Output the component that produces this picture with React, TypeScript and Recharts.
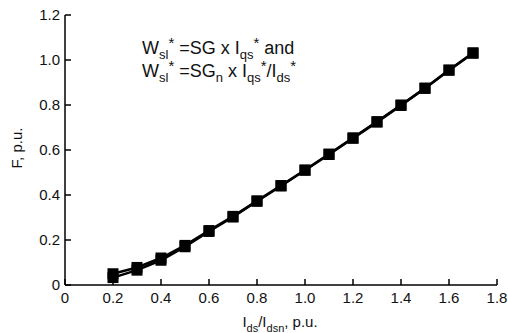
import React from "react";
import { LineChart, Line, XAxis, YAxis } from "recharts";

// current ratio Ids/Idsn, p.u.
const currentRatio = [0.2, 0.3, 0.4, 0.5, 0.6, 0.7, 0.8, 0.9, 1.0, 1.1, 1.2, 1.3, 1.4, 1.5, 1.6, 1.7];
// F, p.u. for Wsl* = SG x Iqs*
const fConstGain = [0.05, 0.078, 0.12, 0.176, 0.242, 0.305, 0.374, 0.442, 0.511, 0.582, 0.654, 0.726, 0.8, 0.875, 0.955, 1.032];
// F, p.u. for Wsl* = SGn x Iqs*/Ids*
const fNormGain = [0.033, 0.066, 0.11, 0.17, 0.238, 0.302, 0.372, 0.44, 0.51, 0.58, 0.652, 0.724, 0.798, 0.874, 0.955, 1.03];

const xTicks = [0, 0.2, 0.4, 0.6, 0.8, 1.0, 1.2, 1.4, 1.6, 1.8];
const yTicks = [0, 0.2, 0.4, 0.6, 0.8, 1.0, 1.2];

const data = currentRatio.map((x, i) => ({ x, a: fConstGain[i], b: fNormGain[i] }));

const FONT = "'Liberation Sans', Arial, sans-serif";
const fmt = (v: number) => (v === 0 ? "0" : v.toFixed(1));

const SquareDot = (props: any) => {
  const { cx, cy } = props;
  if (cx == null || cy == null) return null;
  return <rect x={cx - 5.5} y={cy - 5.5} width={11} height={11} fill="#000" />;
};

const tickStyle = { fontSize: 15, fill: "#111", fontFamily: FONT };

// sub/superscripts that don't push the line height around
const Sub = ({ children, size = 13 }: any) => (
  <span style={{ fontSize: size, position: "relative", top: 5, lineHeight: 0 }}>{children}</span>
);
const Sup = ({ children }: any) => (
  <span style={{ fontSize: 15, position: "relative", top: -6, lineHeight: 0 }}>{children}</span>
);

export default function App() {
  return (
    <div style={{ position: "relative", width: 508, height: 333, background: "#fff", fontFamily: FONT, color: "#111" }}>
      <style>{"body{margin:0}"}</style>
      <LineChart width={508} height={333} data={data} margin={{ top: 15, right: 11, bottom: 18, left: 20 }}>
        <XAxis
          dataKey="x"
          type="number"
          domain={[0, 1.8]}
          ticks={xTicks}
          tickFormatter={fmt}
          height={30}
          stroke="#000"
          strokeWidth={1.5}
          tickSize={-6}
          tickMargin={13}
          tick={tickStyle}
          interval={0}
        />
        <YAxis
          type="number"
          domain={[0, 1.2]}
          ticks={yTicks}
          tickFormatter={fmt}
          width={45}
          stroke="#000"
          strokeWidth={1.5}
          tickSize={-6}
          tickMargin={11}
          tick={tickStyle}
          interval={0}
        />
        <Line type="linear" dataKey="a" stroke="#000" strokeWidth={2.5} dot={<SquareDot />} isAnimationActive={false} />
        <Line type="linear" dataKey="b" stroke="#000" strokeWidth={2.5} dot={<SquareDot />} isAnimationActive={false} />
      </LineChart>

      <div style={{ position: "absolute", left: 142, top: 37, fontSize: 18, lineHeight: "23px", whiteSpace: "nowrap" }}>
        <div>
          W<Sub>sl</Sub><Sup>*</Sup> =SG x I<Sub>qs</Sub><Sup>*</Sup> and
        </div>
        <div>
          W<Sub>sl</Sub><Sup>*</Sup> =SG<Sub>n</Sub> x I<Sub>qs</Sub><Sup>*</Sup>/I<Sub>ds</Sub><Sup>*</Sup>
        </div>
      </div>

      <div style={{ position: "absolute", left: 16, top: 148, transform: "translate(-50%, -50%) rotate(-90deg)", fontSize: 15, whiteSpace: "nowrap" }}>
        F, p.u.
      </div>

      <div style={{ position: "absolute", left: 280, top: 321, transform: "translate(-50%, -50%)", fontSize: 15, whiteSpace: "nowrap" }}>
        I<Sub size={11}>ds</Sub>/I<Sub size={11}>dsn</Sub>, p.u.
      </div>
    </div>
  );
}
